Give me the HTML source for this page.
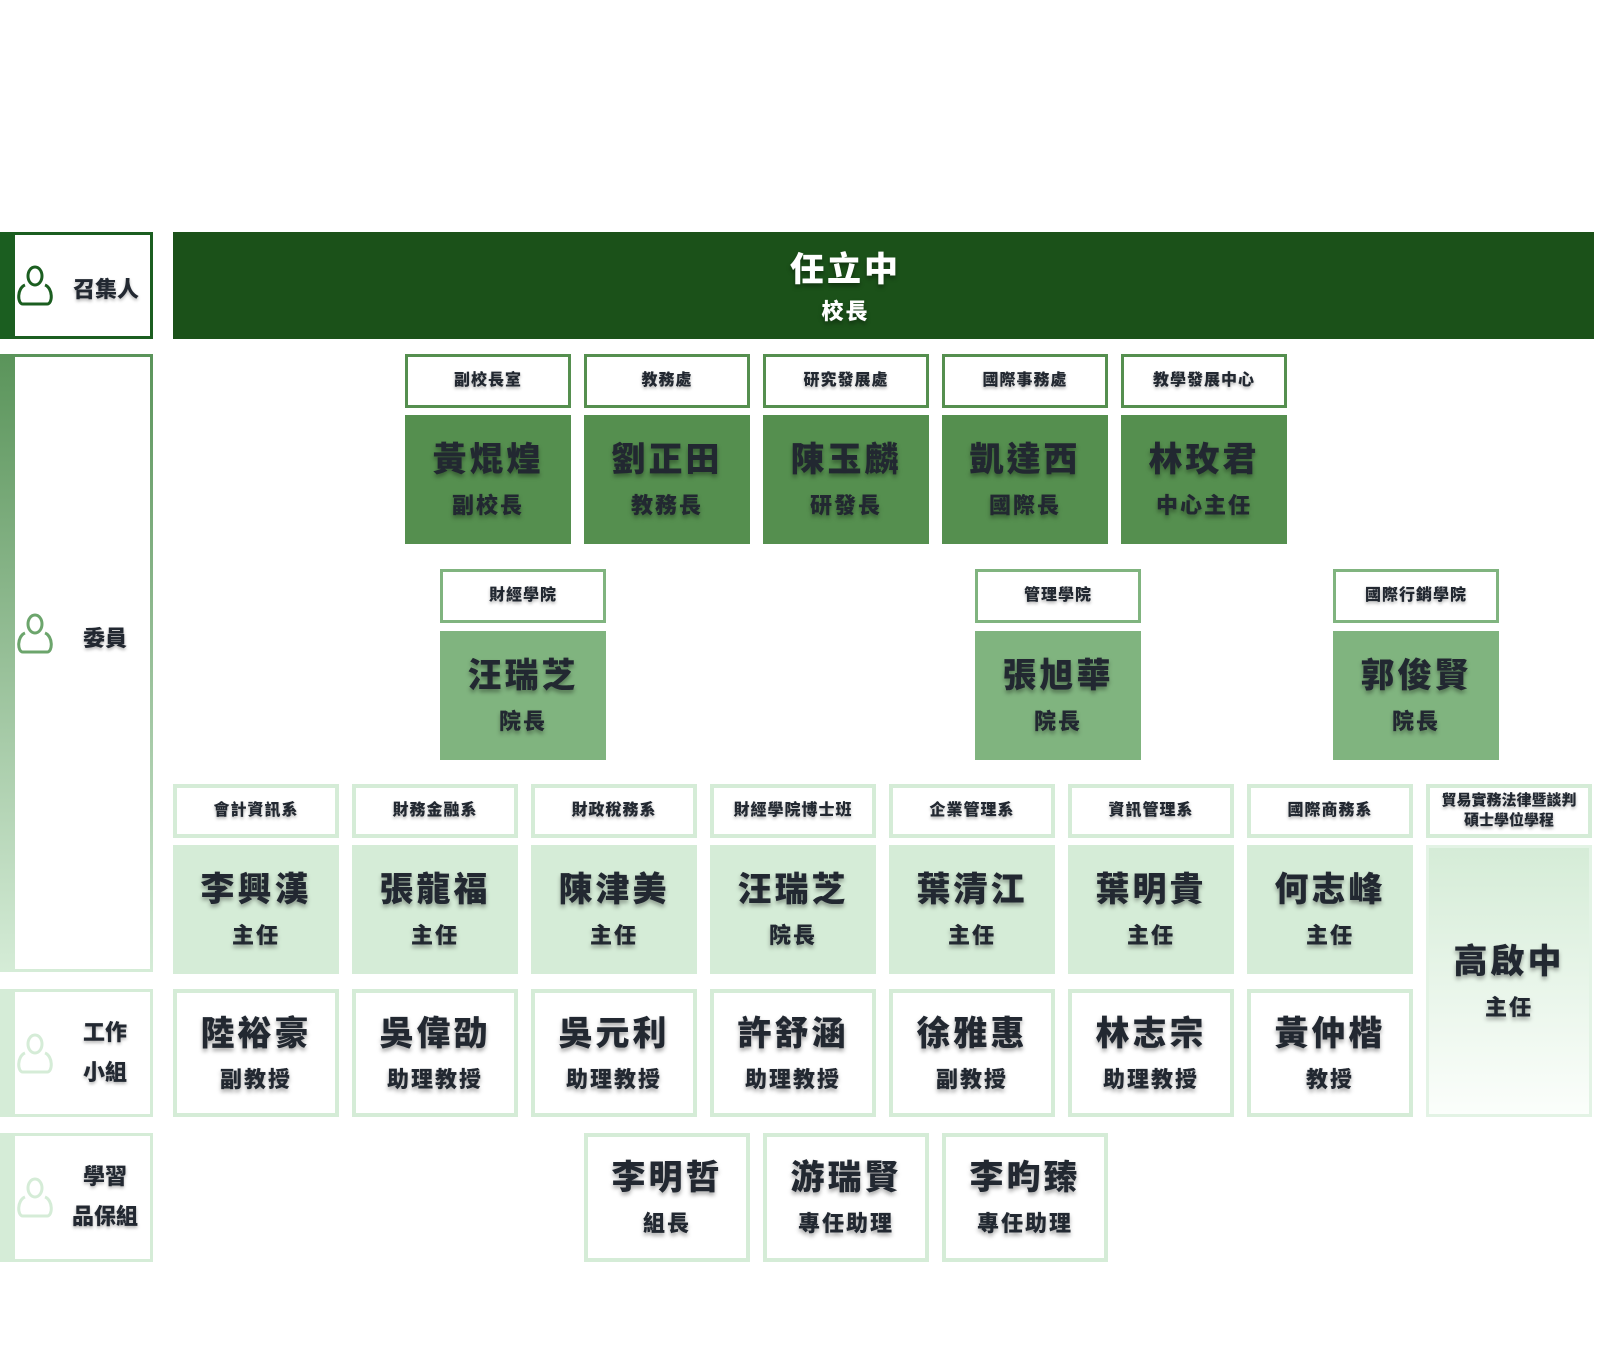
<!DOCTYPE html>
<html><head><meta charset="utf-8"><style>
*{margin:0;padding:0;box-sizing:border-box}
body{width:1600px;height:1350px;background:#fff;position:relative;overflow:hidden;font-family:"Liberation Sans","Noto Sans CJK TC",sans-serif;font-weight:900;color:#222831}
.a{position:absolute}
.hd{position:absolute;height:54px;background:#fff;display:flex;align-items:center;justify-content:center;font-size:16px;text-shadow:0 2px 3px rgba(0,0,0,.3);letter-spacing:1px;text-align:center;line-height:20px}
.p{position:absolute;height:129px;display:flex;flex-direction:column;align-items:center;justify-content:center;text-shadow:0 3px 4px rgba(0,0,0,.35)}
.p .n{font-size:34px;line-height:44px;letter-spacing:3px}
.p .t{font-size:22px;line-height:30px;margin-top:9px;letter-spacing:2px}
.lab{position:absolute;left:0;width:153px}
.lab .in{position:absolute;left:15px;right:3px;top:3px;bottom:3px;background:#fff}
.lab .tx{position:absolute;left:70px;width:70px;text-align:center;font-size:22px;line-height:40px;text-shadow:0 2px 3px rgba(0,0,0,.3)}
</style></head><body>

<div class="lab" style="top:232px;height:107px;background:#1b5e20">
 <div class="in"></div>
 <svg class="a" style="left:15px;top:32px" width="40" height="44" viewBox="0 0 40 44"><ellipse cx="20" cy="12" rx="7" ry="9" fill="none" stroke="#1b5e20" stroke-width="3"/><path d="M10 21 C2 24 2 40 8 40 L32 40 C38 40 38 24 30 21" fill="none" stroke="#1b5e20" stroke-width="3"/></svg>
 <div class="tx" style="top:38px;width:80px;left:66px">召集人</div>
</div>
<div class="lab" style="top:354px;height:618px;background:linear-gradient(#5a945a,#d5ecd7)">
 <div class="in"></div>
 <svg class="a" style="left:15px;top:258px" width="40" height="44" viewBox="0 0 40 44"><ellipse cx="20" cy="12" rx="7" ry="9" fill="none" stroke="#6ca56c" stroke-width="3"/><path d="M10 21 C2 24 2 40 8 40 L32 40 C38 40 38 24 30 21" fill="none" stroke="#6ca56c" stroke-width="3"/></svg>
 <div class="tx" style="top:265px">委員</div>
</div>
<div class="lab" style="top:989px;height:128px;background:#d5ecd7">
 <div class="in"></div>
 <svg class="a" style="left:15px;top:43px" width="40" height="44" viewBox="0 0 40 44"><ellipse cx="20" cy="12" rx="7" ry="9" fill="none" stroke="#d5ecd7" stroke-width="3"/><path d="M10 21 C2 24 2 40 8 40 L32 40 C38 40 38 24 30 21" fill="none" stroke="#d5ecd7" stroke-width="3"/></svg>
 <div class="tx" style="top:24px">工作<br>小組</div>
</div>
<div class="lab" style="top:1133px;height:129px;background:#d5ecd7">
 <div class="in"></div>
 <svg class="a" style="left:15px;top:43px" width="40" height="44" viewBox="0 0 40 44"><ellipse cx="20" cy="12" rx="7" ry="9" fill="none" stroke="#d5ecd7" stroke-width="3"/><path d="M10 21 C2 24 2 40 8 40 L32 40 C38 40 38 24 30 21" fill="none" stroke="#d5ecd7" stroke-width="3"/></svg>
 <div class="tx" style="top:24px;left:62px;width:86px">學習<br>品保組</div>
</div>

<div class="p" style="left:173px;top:232px;width:1421px;height:107px;background:#1b5119;color:#fff;padding-right:76px;padding-top:4px">
 <div class="n" style="font-size:34px;line-height:44px">任立中</div><div class="t" style="margin-top:5px">校長</div>
</div>

<div class="hd" style="left:405px;top:354px;width:166px;border:3px solid #558f4f">副校長室</div>
<div class="hd" style="left:584px;top:354px;width:166px;border:3px solid #558f4f">教務處</div>
<div class="hd" style="left:763px;top:354px;width:166px;border:3px solid #558f4f">研究發展處</div>
<div class="hd" style="left:942px;top:354px;width:166px;border:3px solid #558f4f">國際事務處</div>
<div class="hd" style="left:1121px;top:354px;width:166px;border:3px solid #558f4f">教學發展中心</div>
<div class="p" style="left:405px;top:415px;width:166px;background:#558f4f"><div class="n">黃焜煌</div><div class="t">副校長</div></div>
<div class="p" style="left:584px;top:415px;width:166px;background:#558f4f"><div class="n">劉正田</div><div class="t">教務長</div></div>
<div class="p" style="left:763px;top:415px;width:166px;background:#558f4f"><div class="n">陳玉麟</div><div class="t">研發長</div></div>
<div class="p" style="left:942px;top:415px;width:166px;background:#558f4f"><div class="n">凱達西</div><div class="t">國際長</div></div>
<div class="p" style="left:1121px;top:415px;width:166px;background:#558f4f"><div class="n">林玫君</div><div class="t">中心主任</div></div>

<div class="hd" style="left:440px;top:569px;width:166px;border:3px solid #80b47f">財經學院</div>
<div class="hd" style="left:975px;top:569px;width:166px;border:3px solid #80b47f">管理學院</div>
<div class="hd" style="left:1333px;top:569px;width:166px;border:3px solid #80b47f">國際行銷學院</div>
<div class="p" style="left:440px;top:631px;width:166px;background:#80b47f"><div class="n">汪瑞芝</div><div class="t">院長</div></div>
<div class="p" style="left:975px;top:631px;width:166px;background:#80b47f"><div class="n">張旭華</div><div class="t">院長</div></div>
<div class="p" style="left:1333px;top:631px;width:166px;background:#80b47f"><div class="n">郭俊賢</div><div class="t">院長</div></div>

<div class="hd" style="left:173px;top:784px;width:166px;border:4px solid #d5ecd7">會計資訊系</div>
<div class="hd" style="left:352px;top:784px;width:166px;border:4px solid #d5ecd7">財務金融系</div>
<div class="hd" style="left:531px;top:784px;width:166px;border:4px solid #d5ecd7">財政稅務系</div>
<div class="hd" style="left:710px;top:784px;width:166px;border:4px solid #d5ecd7">財經學院博士班</div>
<div class="hd" style="left:889px;top:784px;width:166px;border:4px solid #d5ecd7">企業管理系</div>
<div class="hd" style="left:1068px;top:784px;width:166px;border:4px solid #d5ecd7">資訊管理系</div>
<div class="hd" style="left:1247px;top:784px;width:166px;border:4px solid #d5ecd7">國際商務系</div>
<div class="hd" style="left:1426px;top:784px;width:166px;border:4px solid #d5ecd7;font-size:15px;letter-spacing:0;white-space:nowrap">貿易實務法律暨談判<br>碩士學位學程</div>

<div class="p" style="left:173px;top:845px;width:166px;background:#d5ecd7"><div class="n">李興漢</div><div class="t">主任</div></div>
<div class="p" style="left:352px;top:845px;width:166px;background:#d5ecd7"><div class="n">張龍福</div><div class="t">主任</div></div>
<div class="p" style="left:531px;top:845px;width:166px;background:#d5ecd7"><div class="n">陳津美</div><div class="t">主任</div></div>
<div class="p" style="left:710px;top:845px;width:166px;background:#d5ecd7"><div class="n">汪瑞芝</div><div class="t">院長</div></div>
<div class="p" style="left:889px;top:845px;width:166px;background:#d5ecd7"><div class="n">葉清江</div><div class="t">主任</div></div>
<div class="p" style="left:1068px;top:845px;width:166px;background:#d5ecd7"><div class="n">葉明貴</div><div class="t">主任</div></div>
<div class="p" style="left:1247px;top:845px;width:166px;background:#d5ecd7"><div class="n">何志峰</div><div class="t">主任</div></div>
<div class="p" style="left:1426px;top:845px;width:166px;height:272px;background:linear-gradient(#d5ecd7,#fbfefb);border:3px solid #e3f3e5"><div class="n">高啟中</div><div class="t">主任</div></div>

<div class="p" style="left:173px;top:989px;width:166px;height:128px;border:4px solid #d5ecd7"><div class="n">陸裕豪</div><div class="t">副教授</div></div>
<div class="p" style="left:352px;top:989px;width:166px;height:128px;border:4px solid #d5ecd7"><div class="n">吳偉劭</div><div class="t">助理教授</div></div>
<div class="p" style="left:531px;top:989px;width:166px;height:128px;border:4px solid #d5ecd7"><div class="n">吳元利</div><div class="t">助理教授</div></div>
<div class="p" style="left:710px;top:989px;width:166px;height:128px;border:4px solid #d5ecd7"><div class="n">許舒涵</div><div class="t">助理教授</div></div>
<div class="p" style="left:889px;top:989px;width:166px;height:128px;border:4px solid #d5ecd7"><div class="n">徐雅惠</div><div class="t">副教授</div></div>
<div class="p" style="left:1068px;top:989px;width:166px;height:128px;border:4px solid #d5ecd7"><div class="n">林志宗</div><div class="t">助理教授</div></div>
<div class="p" style="left:1247px;top:989px;width:166px;height:128px;border:4px solid #d5ecd7"><div class="n">黃仲楷</div><div class="t">教授</div></div>

<div class="p" style="left:584px;top:1133px;width:166px;border:4px solid #d5ecd7"><div class="n">李明哲</div><div class="t">組長</div></div>
<div class="p" style="left:763px;top:1133px;width:166px;border:4px solid #d5ecd7"><div class="n">游瑞賢</div><div class="t">專任助理</div></div>
<div class="p" style="left:942px;top:1133px;width:166px;border:4px solid #d5ecd7"><div class="n">李昀臻</div><div class="t">專任助理</div></div>

</body></html>
